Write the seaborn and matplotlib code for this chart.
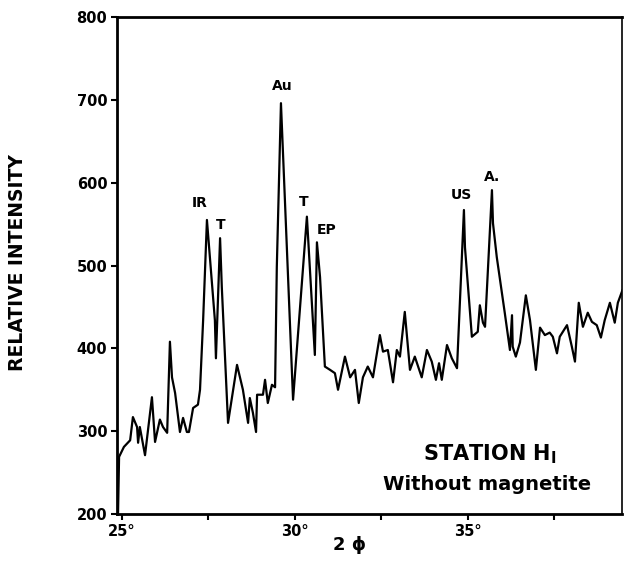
import numpy as np
import pandas as pd
import matplotlib
matplotlib.use("Agg")
import matplotlib.pyplot as plt
import seaborn as sns

# diffraction trace (2phi in degrees, relative intensity)
two_phi = [24.89, 24.92, 25.06, 25.24, 25.32, 25.44, 25.47, 25.52, 25.67, 25.87,
           25.96, 26.10, 26.19, 26.31, 26.39, 26.45, 26.54, 26.68, 26.77, 26.88,
           26.94, 27.06, 27.20, 27.26, 27.35, 27.46, 27.69, 27.72, 27.84, 27.89,
           28.07, 28.33, 28.50, 28.65, 28.70, 28.79, 28.88, 28.91, 29.08, 29.14,
           29.22, 29.34, 29.43, 29.48, 29.60, 29.95, 30.35, 30.58, 30.64, 30.73,
           30.87, 31.02, 31.16, 31.25, 31.45, 31.60, 31.74, 31.85, 31.97, 32.11,
           32.26, 32.46, 32.55, 32.69, 32.84, 32.95, 33.04, 33.18, 33.33, 33.47,
           33.67, 33.82, 33.96, 34.08, 34.17, 34.25, 34.40, 34.54, 34.69, 34.89,
           34.92, 35.12, 35.29, 35.35, 35.44, 35.50, 35.70, 35.73, 35.84, 36.07,
           36.22, 36.28, 36.30, 36.39, 36.51, 36.68, 36.80, 36.97, 37.09, 37.23,
           37.37, 37.46, 37.58, 37.66, 37.87, 38.01, 38.10, 38.21, 38.33, 38.47,
           38.59, 38.73, 38.85, 38.96, 39.11, 39.25, 39.34, 39.48]
intensity = [201, 269, 281, 289, 317, 305, 286, 305, 271, 341,
             287, 314, 305, 298, 408, 365, 346, 299, 316, 299,
             299, 328, 332, 350, 434, 555, 434, 388, 533, 474,
             310, 380, 350, 310, 340, 322, 299, 344, 344, 362,
             334, 356, 353, 498, 696, 338, 559, 392, 528, 486,
             378, 374, 370, 350, 390, 365, 374, 334, 365, 378,
             365, 416, 396, 398, 359, 398, 390, 444, 374, 390,
             365, 398, 384, 362, 382, 362, 404, 388, 376, 567,
             522, 414, 420, 452, 431, 426, 591, 551, 510, 443,
             398, 440, 402, 390, 407, 464, 434, 374, 425, 416,
             419, 414, 394, 414, 428, 402, 384, 455, 426, 443,
             432, 428, 413, 434, 455, 431, 455, 471]

# peak labels
peak_names = ["IR", "T", "Au", "T", "EP", "US", "A."]
peak_x = [27.26, 27.86, 29.63, 30.26, 30.92, 34.83, 35.70]
peak_y = [575, 549, 717, 577, 543, 585, 607]

y_ticks = [200, 300, 400, 500, 600, 700, 800]
x_major = [25, 30, 35]
x_minor = [27.5, 32.5, 37.5]

df = pd.DataFrame({"two_phi": two_phi, "intensity": intensity})

sns.set_style("ticks")
plt.rcParams["font.family"] = ["DejaVu Sans"]
plt.rcParams["text.color"] = "black"
plt.rcParams["axes.labelcolor"] = "black"
plt.rcParams["xtick.color"] = "black"
plt.rcParams["ytick.color"] = "black"

fig = plt.figure(figsize=(6.24, 5.66), dpi=100)
ax = fig.add_axes([0.1875, 0.0919, 0.8093, 0.878])

sns.lineplot(data=df, x="two_phi", y="intensity", color="black", lw=1.6,
             sort=False, estimator=None, ax=ax)

ax.set_xlim(24.86, 39.46)
ax.set_ylim(200, 800)

ax.set_yticks(y_ticks)
ax.set_yticklabels([str(v) for v in y_ticks], fontsize=10.5, fontweight="bold")
ax.set_xticks(x_major)
ax.set_xticklabels([f"{v}°" for v in x_major], fontsize=10.5, fontweight="bold")
ax.set_xticks(x_minor, minor=True)
ax.tick_params(axis="both", which="both", direction="out", length=4, width=1.5,
               color="black", pad=3)

for side in ["left", "bottom", "top", "right"]:
    ax.spines[side].set_linewidth(2)
    ax.spines[side].set_color("black")
ax.spines["right"].set_linewidth(1.2)

ax.set_ylabel("RELATIVE INTENSITY", fontsize=13.5, fontweight="bold")
ax.yaxis.set_label_coords(-0.178, 0.505)
ax.set_xlabel("2 ϕ", fontsize=13, fontweight="bold")
ax.xaxis.set_label_coords(0.46, -0.045)

for name, px, py in zip(peak_names, peak_x, peak_y):
    ax.text(px, py, name, ha="center", va="center", fontsize=10,
            fontweight="bold")

ax.text(35.64, 272, "STATION H$_\\mathbf{I}$", ha="center", va="center",
        fontsize=15, fontweight="bold")
ax.text(35.55, 235, "Without magnetite", ha="center", va="center",
        fontsize=14, fontweight="bold")

fig.savefig("out.png", dpi=100)
